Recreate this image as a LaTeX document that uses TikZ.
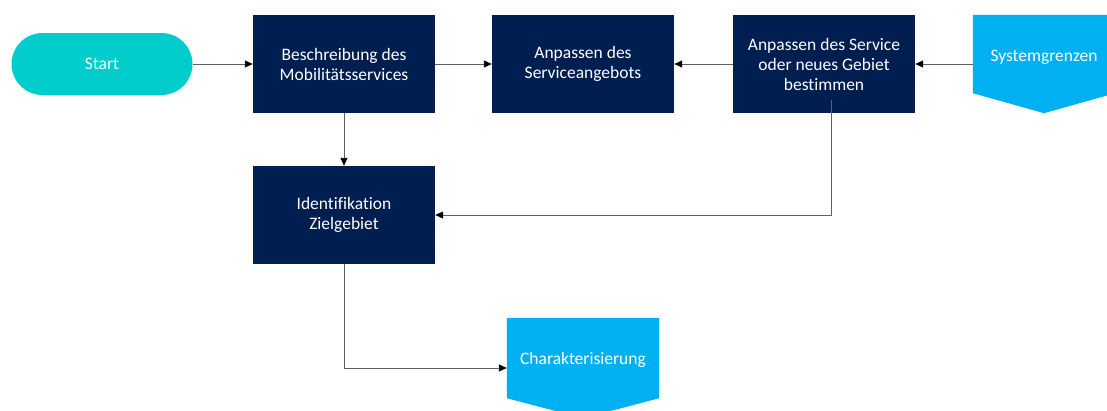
\documentclass[tikz,border=0pt]{standalone}
\usepackage{fontspec}
\setmainfont[Ligatures={NoCommon}]{Carlito}
\usetikzlibrary{arrows.meta,calc,backgrounds}
\definecolor{navy}{HTML}{001E50}
\definecolor{teal}{HTML}{00CCCC}
\definecolor{sky}{HTML}{00B0F0}
\definecolor{wire}{HTML}{606060}
\tikzset{
  label font/.style={font=\fontsize{17.5}{20}\selectfont},
  box/.style={fill=navy, text=white, minimum width=182pt, minimum height=98pt,
    inner sep=0pt, align=center, label font},
  pill/.style={fill=teal, text=white, minimum width=181pt, minimum height=62pt,
    rounded corners=31pt, inner sep=0pt, label font},
  offpage/.style={minimum height=98pt, inner sep=0pt},
  offtext/.style={text=white, label font},
  flow/.style={draw=wire, line width=0.9pt, -{Triangle[length=8pt,width=7pt,fill=black,color=black]}},
}
% fills the off-page connector outline of node #1 (pointed bottom, 20pt tip)
\newcommand\offpagefill[1]{%
  \fill[sky] (#1.north west) -- (#1.north east) -- ($(#1.south east)+(0,-20)$)
    -- (#1.south) -- ($(#1.south west)+(0,-20)$) -- cycle;}
\begin{document}
\begin{tikzpicture}[x=1pt,y=-1pt]
\useasboundingbox (0,0) rectangle (1107,410);
\node[pill] (start) at (102,64) {Start};
\node[box] (desc) at (344,64) {Beschreibung des\\Mobilitätsservices};
\node[box] (adapt) at (583,64) {Anpassen des\\Serviceangebots};
\node[box] (svc) at (824,64) {Anpassen des Service\\oder neues Gebiet\\bestimmen};
\node[box] (ident) at (344,215) {Identifikation\\Zielgebiet};
\node[offpage, minimum width=142pt] (sys) at (1044,64) {};
\node[offpage, minimum width=152pt, minimum height=100pt] (char) at (583,368) {};
\begin{scope}[on background layer]
  \offpagefill{sys}
  \offpagefill{char}
\end{scope}
\node[offtext] (systxt) at ([yshift=7pt]sys.center) {Systemgrenzen};
\node[offtext] (chartxt) at ([yshift=8pt]char.center) {Charakterisierung};

\draw[flow] (start.east) -- (desc.west);
\draw[flow] (desc.east) -- (adapt.west);
\draw[flow] (svc.west) -- (adapt.east);
\draw[flow] (sys.west) -- (svc.east);
\draw[flow] (desc.south) -- (ident.north);
\draw[flow] ([xshift=7pt,yshift=13pt]svc.south) |- (ident.east);
\draw[flow] (ident.south) |- (char.west);
\end{tikzpicture}
\end{document}
